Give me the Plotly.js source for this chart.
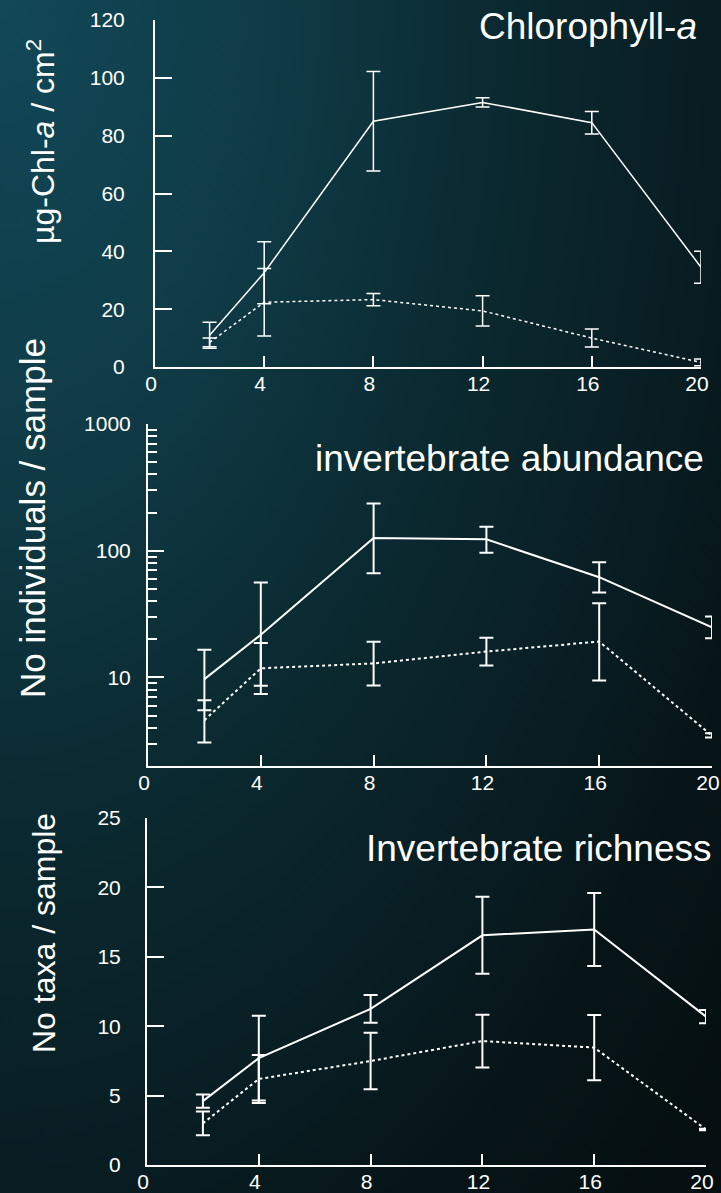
<!DOCTYPE html>
<html>
<head>
<meta charset="utf-8">
<script src="https://cdn.plot.ly/plotly-3.0.1.min.js"></script>
<style>
  html, body { margin: 0; padding: 0; }
  body {
    width: 721px; height: 1193px; overflow: hidden;
    background: radial-gradient(ellipse farthest-corner at 0% 0%,
      #124858 0%, #0f3b46 27%, #0b2a31 48%, #081d22 70%, #071417 82%, #050e10 100%);
  }
  #chart { width: 721px; height: 1193px; }
</style>
</head>
<body>
<div id="chart"></div>
<script>
// ---- data ----
const days = [2, 4, 8, 12, 16, 20];

// Chlorophyll-a (µg-Chl-a / cm²)
const chlSolid = [11, 32.6, 85, 91.5, 84.5, 34.5];
const chlSolidErr = [4.5, 10.7, 17.2, 1.6, 3.9, 5.5];
const chlDotted = [8.5, 22.4, 23.3, 19.4, 10.0, 1.6];
const chlDottedErr = [1.5, 11.7, 2.1, 5.2, 3.1, 1.2];

// Invertebrate abundance (No individuals / sample), log scale
const abuSolid = [9.7, 21.7, 126, 123, 61.8, 24.9];
const abuSolidErrPlus = [6.8, 34.3, 110, 31.5, 19.3, 5.3];
const abuSolidErrMinus = [4.2, 13.1, 59.6, 26.6, 15.1, 4.5];
const abuDotted = [4.6, 11.8, 12.9, 16.0, 19.2, 3.47];
const abuDottedErrPlus = [2.0, 6.9, 6.2, 4.6, 19.3, 0.15];
const abuDottedErrMinus = [1.53, 4.4, 4.25, 3.6, 9.73, 0.12];

// Invertebrate richness (No taxa / sample)
const richSolid = [4.6, 7.7, 11.25, 16.55, 16.97, 10.69];
const richSolidErr = [0.48, 3.06, 1.0, 2.78, 2.63, 0.48];
const richDotted = [3.0, 6.2, 7.49, 8.93, 8.46, 2.56];
const richDottedErr = [0.85, 1.73, 2.04, 1.9, 2.35, 0.05];

const xTicks = [0, 4, 8, 12, 16, 20];
const titles = ['Chlorophyll-<i>a</i>', 'invertebrate abundance', 'Invertebrate richness'];
const yTitles = ['µg-Chl-<i>a</i> / cm<sup>2</sup>', 'No individuals / sample', 'No taxa / sample'];

// ---- helpers (pixel -> paper) ----
const W = 721, H = 1193;
const px = v => v / W;
const py = v => 1 - v / H;
const FONT = 'Liberation Sans, Arial, Helvetica, sans-serif';
const WHITE = '#ffffff';

function series(x, y, errP, errM, xa, ya, dash, lw, ew) {
  return {
    type: 'scatter', mode: 'lines', x: x, y: y, xaxis: xa, yaxis: ya,
    line: { color: WHITE, width: lw, dash: dash },
    error_y: {
      type: 'data', symmetric: false, array: errP, arrayminus: errM,
      color: WHITE, thickness: ew, width: 7, visible: true
    },
    hoverinfo: 'skip', showlegend: false
  };
}

const data = [
  series(days, chlSolid, chlSolidErr, chlSolidErr, 'x', 'y', 'solid', 1.5, 1.5),
  series(days, chlDotted, chlDottedErr, chlDottedErr, 'x', 'y', 'dot', 1.5, 1.5),
  series(days, abuSolid, abuSolidErrPlus, abuSolidErrMinus, 'x2', 'y2', 'solid', 2, 2),
  series(days, abuDotted, abuDottedErrPlus, abuDottedErrMinus, 'x2', 'y2', 'dot', 2, 2),
  series(days, richSolid, richSolidErr, richSolidErr, 'x3', 'y3', 'solid', 2, 2),
  series(days, richDotted, richDottedErr, richDottedErr, 'x3', 'y3', 'dot', 2, 2)
];

function xAxis(domain, anchor) {
  return {
    domain: domain, anchor: anchor, range: [0, 20],
    tickmode: 'array', tickvals: xTicks, ticktext: xTicks.map(String),
    showline: true, linecolor: WHITE, linewidth: 2,
    ticks: 'inside', ticklen: 11, tickwidth: 2, tickcolor: WHITE,
    showgrid: false, zeroline: false, fixedrange: true,
    tickfont: { family: FONT, size: 21, color: WHITE },
    ticklabelshift: -4, ticklabelstandoff: -3
  };
}

function yAxisBase(domain, anchor, standoff) {
  return {
    domain: domain, anchor: anchor,
    showline: true, linecolor: WHITE, linewidth: 2,
    ticks: 'inside', ticklen: 17, tickwidth: 2, tickcolor: WHITE,
    showgrid: false, zeroline: false, fixedrange: true,
    tickfont: { family: FONT, size: 21, color: WHITE },
    ticklabelstandoff: standoff
  };
}

const y1 = Object.assign(yAxisBase([py(367), py(20)], 'x', 24), {
  range: [0, 120], tickmode: 'array', tickvals: [0, 20, 40, 60, 80, 100, 120]
});
const y2 = Object.assign(yAxisBase([py(766), py(424)], 'x2', 11), {
  type: 'log', range: [Math.log10(2), 3],
  tickmode: 'array', tickvals: [10, 100, 1000], ticktext: ['10', '100', '1000'],
  ticklen: 16,
  minor: {
    tickmode: 'array',
    tickvals: [3, 4, 5, 6, 7, 8, 9, 20, 30, 40, 50, 60, 70, 80, 90, 200, 300, 400, 500, 600, 700, 800, 900],
    ticks: 'inside', ticklen: 9, tickwidth: 2, tickcolor: WHITE, showgrid: false
  }
});
const y3 = Object.assign(yAxisBase([py(1165), py(818)], 'x3', 20), {
  range: [0, 25], tickmode: 'array', tickvals: [0, 5, 10, 15, 20, 25]
});

function ann(text, x, y, size, xanchor, angle) {
  return {
    text: text, xref: 'paper', yref: 'paper', x: x, y: y,
    xanchor: xanchor, yanchor: 'middle', showarrow: false,
    textangle: angle || 0,
    font: { family: FONT, size: size, color: WHITE }
  };
}

const layout = {
  width: W, height: H,
  margin: { l: 0, r: 0, t: 0, b: 0, pad: 0 },
  paper_bgcolor: 'rgba(0,0,0,0)',
  plot_bgcolor: 'rgba(0,0,0,0)',
  font: { family: FONT, color: WHITE },
  showlegend: false,
  xaxis: xAxis([px(155), px(701)], 'y'),
  yaxis: y1,
  xaxis2: xAxis([px(148), px(712)], 'y2'),
  yaxis2: y2,
  xaxis3: xAxis([px(147), px(706)], 'y3'),
  yaxis3: y3,
  annotations: [
    ann(titles[0], px(699), py(26), 37, 'right'),
    ann(titles[1], px(706), py(458), 37, 'right'),
    ann(titles[2], px(714), py(848), 37, 'right'),
    ann(yTitles[0], px(41), py(142), 32, 'center', -90),
    ann(yTitles[1], px(32), py(518), 35, 'center', -90),
    ann(yTitles[2], px(44), py(933), 32, 'center', -90)
  ]
};

Plotly.newPlot('chart', data, layout, { staticPlot: true, displayModeBar: false });
</script>
</body>
</html>
